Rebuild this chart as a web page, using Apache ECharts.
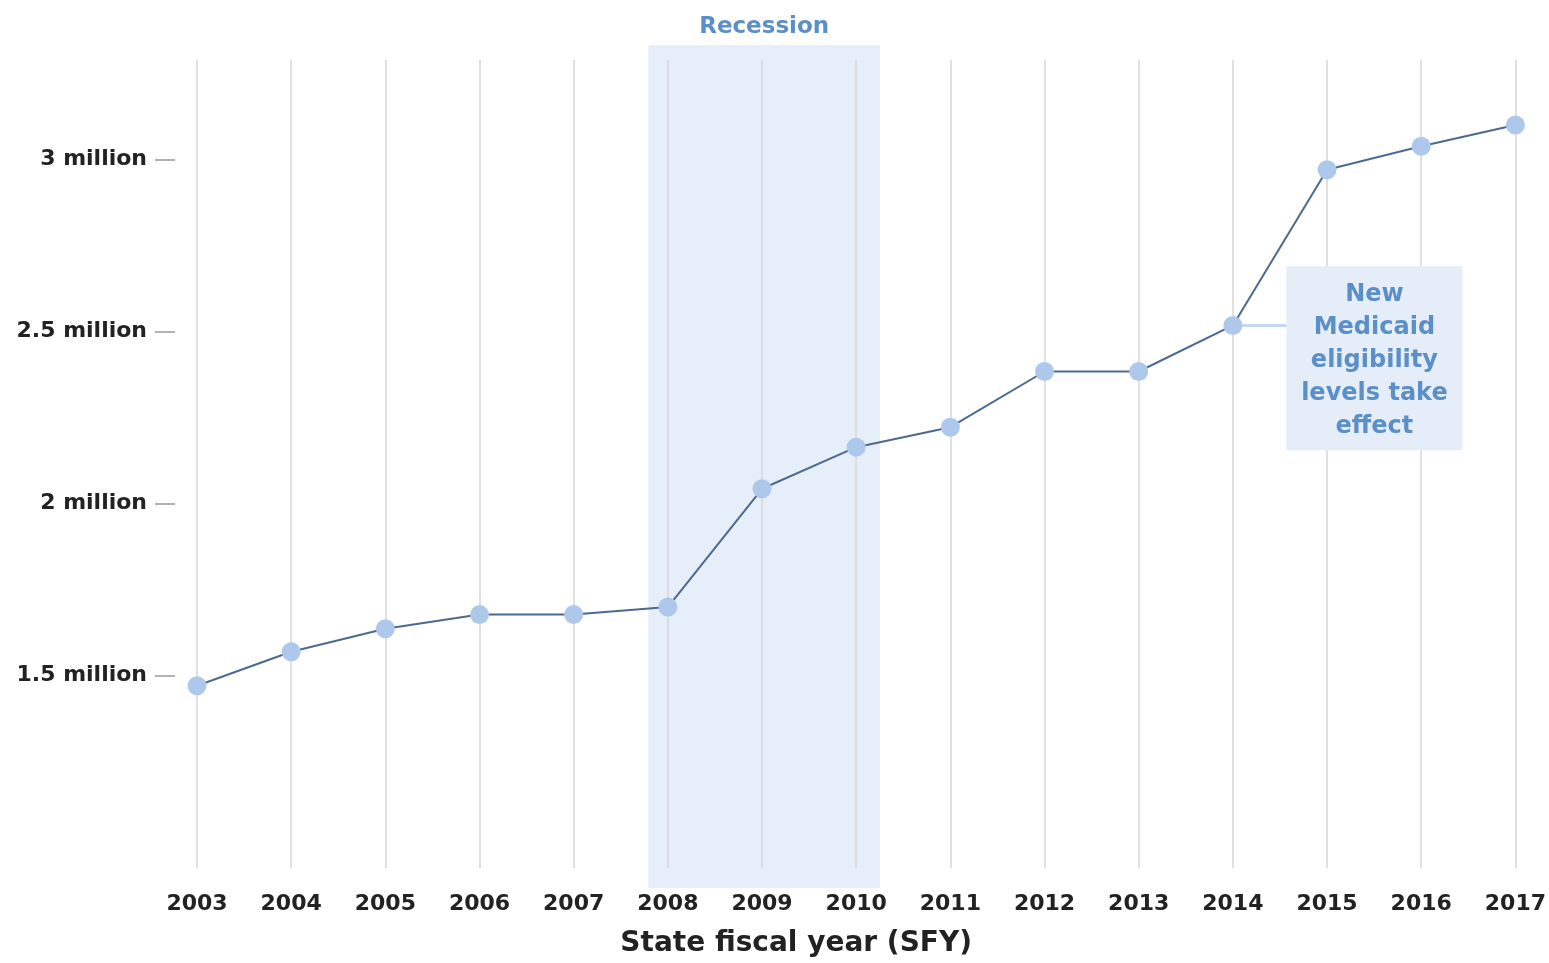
<!DOCTYPE html>
<html>
<head>
<meta charset="utf-8">
<script src="https://cdn.jsdelivr.net/npm/echarts@6/dist/echarts.min.js"></script>
<style>
  html, body { margin: 0; padding: 0; background: #fff; }
  #chart { width: 1549px; height: 963px; }
</style>
</head>
<body>
<div id="chart"></div>
<script>
// enrollment by state fiscal year
const years = [2003, 2004, 2005, 2006, 2007, 2008, 2009, 2010, 2011, 2012, 2013, 2014, 2015, 2016, 2017];
const enrollment = [1470000, 1569000, 1636000, 1677000, 1677000, 1699000, 2043000, 2164000,
  2222000, 2384000, 2384000, 2518000, 2971000, 3039000, 3101000];
const yTicks = [1500000, 2000000, 2500000, 3000000];
const recession = [2007.79, 2010.25];
const noteYear = 2014;
const noteText = "New\nMedicaid\neligibility\nlevels take\neffect";

const font = "DejaVu Sans";
const blue = "#5b8fc7";

const chart = echarts.init(document.getElementById("chart"));
chart.setOption({
  backgroundColor: "#fff",
  animation: false,
  grid: [
    { left: 197, right: 33, top: 60, bottom: 93 },
    { left: 197, right: 33, top: 45, bottom: 75 } // taller band for recession shading
  ],
  xAxis: [
    {
      type: "value",
      gridIndex: 0,
      z: 3,
      min: 2003,
      max: 2017,
      interval: 1,
      axisLine: { show: false },
      axisTick: { show: false },
      splitLine: { show: true, lineStyle: { color: "#d6d6d6", width: 1.5 } },
      axisLabel: {
        margin: 25,
        fontFamily: font,
        fontWeight: "bold",
        fontSize: 22,
        color: "#222",
        formatter: v => String(v)
      },
      name: "State fiscal year (SFY)",
      nameLocation: "middle",
      nameGap: 62,
      nameTextStyle: {
        fontFamily: font, fontWeight: "bold", fontSize: 28, color: "#222",
        padding: [0, 120, 0, 0]
      }
    },
    { type: "value", gridIndex: 1, min: 2003, max: 2017, show: false }
  ],
  yAxis: [
    {
      type: "value",
      gridIndex: 0,
      min: 940000,
      max: 3290000,
      offset: 22,
      axisLine: { show: false },
      splitLine: { show: false },
      axisTick: {
        show: true,
        length: 20,
        customValues: yTicks,
        lineStyle: { color: "#999", width: 1.5 }
      },
      axisLabel: {
        margin: 28,
        customValues: yTicks,
        fontFamily: font,
        fontWeight: "bold",
        fontSize: 22,
        color: "#222",
        formatter: v => (v / 1000000) + " million"
      }
    },
    { type: "value", gridIndex: 1, min: 0, max: 1, show: false }
  ],
  series: [
    {
      type: "line",
      xAxisIndex: 1,
      yAxisIndex: 1,
      z: -1,
      data: [],
      silent: true,
      markArea: {
        silent: true,
        itemStyle: { color: "#e6eef9" },
        label: {
          show: true,
          position: "top",
          distance: 6,
          color: blue,
          fontFamily: font,
          fontWeight: "bold",
          fontSize: 23
        },
        data: [[{ name: "Recession", xAxis: recession[0], yAxis: 0 }, { xAxis: recession[1], yAxis: 1 }]]
      }
    },
    {
      type: "line",
      xAxisIndex: 0,
      yAxisIndex: 0,
      z: 5,
      data: years.map((y, i) => [y, enrollment[i]]),
      lineStyle: { color: "#4c6a8c", width: 2 },
      symbol: "circle",
      symbolSize: 19,
      itemStyle: { color: "#aec8eb", borderWidth: 0 },
      markLine: {
        silent: true,
        symbol: "none",
        lineStyle: { color: "#c4d7f0", width: 3, type: "solid" },
        label: { show: false },
        data: [[
          { coord: [noteYear, enrollment[years.indexOf(noteYear)]] },
          { coord: [noteYear + 0.6, enrollment[years.indexOf(noteYear)]] }
        ]]
      },
      markPoint: {
        silent: true,
        symbol: "rect",
        symbolSize: [176, 184],
        itemStyle: { color: "#e4edf8" },
        label: {
          show: true,
          position: "inside",
          offset: [0, 3],
          color: blue,
          fontFamily: font,
          fontWeight: "bold",
          fontSize: 24,
          lineHeight: 33,
          align: "center",
          formatter: noteText
        },
        data: [{ coord: [2015.503, 2422600] }]
      }
    }
  ]
});
</script>
</body>
</html>
